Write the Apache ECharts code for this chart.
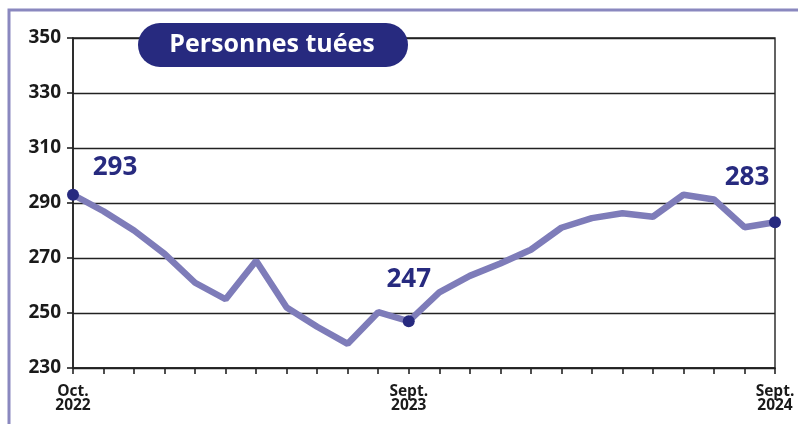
<!DOCTYPE html>
<html><head><meta charset="utf-8">
<script src="https://cdn.jsdelivr.net/npm/echarts@6/dist/echarts.min.js"></script>
<style>html,body{margin:0;padding:0;background:#fff}#c{width:798px;height:424px}</style>
</head><body><div id="c"></div>
<script>
const categories = ['Oct.\n2022','Nov.','Déc.','Janv.','Févr.','Mars','Avr.','Mai','Juin','Juil.','Août','Sept.\n2023','Oct.','Nov.','Déc.','Janv.','Févr.','Mars','Avr.','Mai','Juin','Juil.','Août','Sept.\n2024'];
const values = [293,287,280,271.5,261,255,269,252,245,238.8,250.3,247,257.5,263.5,268,273,281,284.5,286.3,285,293,291.3,281.2,283];
const shownLabels = [0, 11, 23];
const markedPoints = [0, 11, 23];
const yTicks = {min:230, max:350, interval:20};
const title = 'Personnes tuées';

const NAVY = '#272a7f';
const LINE = '#7e7cb9';
const FONT = 'Open Sans';

const labelOffsets = {0:[42,-3], 11:[0,-18], 23:[-28,-21]};
const data = values.map((v,i)=>{
  const marked = markedPoints.includes(i);
  return {
    value: v,
    symbol: marked ? 'circle' : 'none',
    symbolSize: marked ? 12 : 0,
    label: marked ? {show:true, position:'top', offset: labelOffsets[i], formatter: String(Math.round(v))} : {show:false}
  };
});

const chart = echarts.init(document.getElementById('c'), null, {renderer:'canvas'});
chart.setOption({
  animation:false,
  grid:{left:73, right:23, top:38, bottom:56, show:true, borderColor:'#222', borderWidth:1.4, containLabel:false},
  xAxis:{
    type:'category', data:categories, boundaryGap:false,
    axisLine:{show:true, lineStyle:{color:'#222', width:1.6}},
    axisTick:{show:true, inside:false, length:6, interval:0, lineStyle:{color:'#222', width:1.6}},
    axisLabel:{
      interval:(i)=>shownLabels.includes(i),
      margin:17, color:'#1a1a1a', fontFamily:FONT, fontWeight:'bold', fontSize:15.5, lineHeight:14,
      formatter:(v,i)=>shownLabels.includes(i)?v:''
    },
    splitLine:{show:false}
  },
  yAxis:{
    type:'value', min:yTicks.min, max:yTicks.max, interval:yTicks.interval,
    axisLine:{show:true, lineStyle:{color:'#222', width:1.6}},
    axisTick:{show:true, length:6, lineStyle:{color:'#222', width:1.6}},
    axisLabel:{color:'#1a1a1a', fontFamily:FONT, fontWeight:'bold', fontSize:19, margin:12},
    splitLine:{show:true, lineStyle:{color:'#222', width:1.4}}
  },
  series:[{
    type:'line', data:data,
    lineStyle:{color:LINE, width:6.5},
    itemStyle:{color:NAVY},
    label:{color:NAVY, fontFamily:FONT, fontWeight:'bold', fontSize:26},
    z:3
  }],
  graphic:[
    {type:'polyline', shape:{points:[[9,430],[9,10],[800,10]]}, style:{stroke:'#8a88bf', lineWidth:3, fill:null}, silent:true},
    {type:'rect', shape:{x:138, y:23, width:270, height:44, r:22}, style:{fill:NAVY}, z:10},
    {type:'text', x:272, y:45, style:{text:title, fill:'#fff', font:'bold 25px "Open Sans"', align:'center', verticalAlign:'middle'}, z:11}
  ]
});
</script></body></html>
